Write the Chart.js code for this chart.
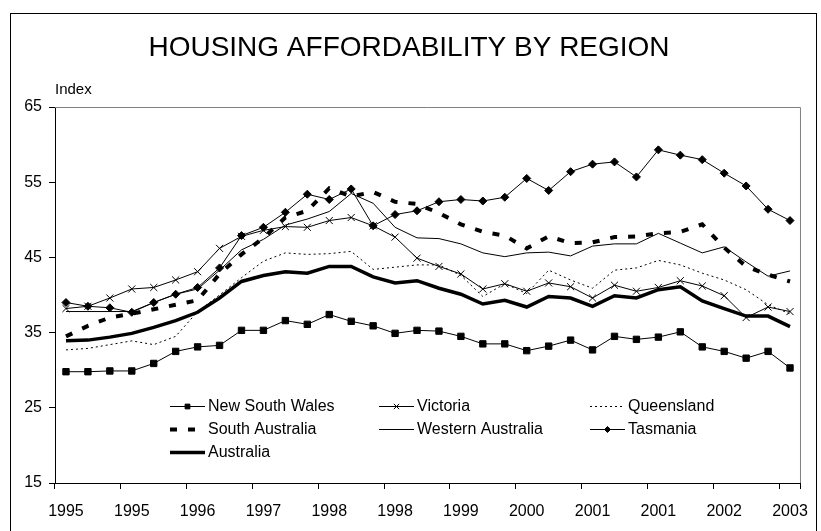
<!DOCTYPE html>
<html>
<head>
<meta charset="utf-8">
<title>Housing affordability by region</title>
<script src="https://cdn.jsdelivr.net/npm/chart.js@4.4.0/dist/chart.umd.min.js"></script>
<style>
  html, body { margin: 0; padding: 0; background: #fff; }
  #wrap { width: 821px; height: 531px; }
</style>
</head>
<body>
<div id="wrap"><canvas id="chart" width="821" height="531"></canvas></div>
<script>
// quarterly observations, 1995 Q1 .. 2003 Q2 (only every third one is labelled)
const quarters = [
  '1995', '1995', '1995', '1995', '1996', '1996', '1996', '1996',
  '1997', '1997', '1997', '1997', '1998', '1998', '1998', '1998',
  '1999', '1999', '1999', '1999', '2000', '2000', '2000', '2000',
  '2001', '2001', '2001', '2001', '2002', '2002', '2002', '2002',
  '2003', '2003'
];
const labelEvery = 3;
const yTicks = [15, 25, 35, 45, 55, 65];

const newSouthWales = [29.8, 29.8, 29.9, 29.9, 30.9, 32.5, 33.1, 33.3, 35.3, 35.3, 36.6, 36.1, 37.4, 36.5, 35.9, 34.9, 35.3,
  35.2, 34.5, 33.5, 33.5, 32.6, 33.2, 34.0, 32.7, 34.5, 34.1, 34.4, 35.1, 33.1, 32.5, 31.6, 32.5, 30.3];
const victoria = [38.2, 38.5, 39.6, 40.8, 41.0, 42.0, 43.1, 46.2, 47.8, 48.6, 49.1, 49.0, 49.9, 50.3, 49.2, 47.7, 44.9,
  43.8, 42.8, 40.8, 41.5, 40.5, 41.6, 41.1, 39.6, 41.3, 40.5, 41.0, 41.9, 41.2, 39.9, 37.0, 38.4, 37.8];
const queensland = [32.7, 32.9, 33.4, 33.9, 33.4, 34.5, 37.8, 40.0, 42.3, 44.5, 45.6, 45.4, 45.5, 45.8, 43.4, 43.7, 44.0,
  44.0, 42.6, 39.8, 41.5, 40.2, 43.3, 42.0, 40.9, 43.3, 43.6, 44.6, 44.0, 42.9, 42.0, 40.7, 38.7, 37.5];
const southAustralia = [34.5, 35.9, 37.0, 37.5, 38.1, 38.7, 39.3, 42.8, 45.4, 47.6, 50.3, 51.2, 54.2, 53.1, 53.7, 52.4, 52.1,
  50.9, 49.4, 48.4, 47.9, 46.2, 47.8, 46.9, 47.0, 47.7, 47.8, 48.2, 48.4, 49.4, 46.3, 43.8, 42.7, 41.8];
const westernAustralia = [37.8, 37.8, 37.8, 37.8, 39.0, 40.1, 40.8, 43.3, 46.0, 47.4, 49.3, 50.1, 51.1, 53.5, 52.2, 49.0, 47.6,
  47.5, 46.8, 45.6, 45.1, 45.6, 45.7, 45.2, 46.5, 46.8, 46.8, 48.2, 46.9, 45.6, 46.4, 44.4, 42.5, 43.2];
const tasmania = [39.0, 38.5, 38.3, 37.7, 39.0, 40.1, 41.0, 43.6, 47.9, 49.0, 51.0, 53.4, 52.7, 54.1, 49.2, 50.7, 51.2,
  52.4, 52.7, 52.5, 53.0, 55.5, 53.9, 56.4, 57.4, 57.7, 55.7, 59.3, 58.6, 58.0, 56.2, 54.5, 51.4, 49.9];
const australia = [33.9, 34.0, 34.4, 34.9, 35.7, 36.6, 37.7, 39.6, 41.8, 42.6, 43.1, 42.9, 43.8, 43.8, 42.4, 41.6, 41.9,
  40.9, 40.1, 38.8, 39.3, 38.4, 39.8, 39.6, 38.5, 39.9, 39.6, 40.7, 41.1, 39.2, 38.2, 37.2, 37.2, 35.8];

const FONT = '"Liberation Sans", Arial, sans-serif';

function series(label, data, extra) {
  return Object.assign({
    label: label,
    data: data,
    borderColor: '#000',
    backgroundColor: '#000',
    pointBackgroundColor: '#000',
    pointBorderColor: '#000',
    borderWidth: 1,
    pointRadius: 0,
    pointBorderWidth: 1,
    tension: 0,
    fill: false
  }, extra || {});
}

// frame, title, axis caption and the three-column legend inside the plot
const decorations = {
  id: 'decorations',
  beforeDraw(chart) {
    const ctx = chart.ctx;
    ctx.save();
    ctx.fillStyle = '#fff';
    ctx.fillRect(0, 0, chart.width, chart.height);
    ctx.restore();
  },
  afterDraw(chart) {
    const ctx = chart.ctx;
    const a = chart.chartArea;
    ctx.save();

    // outer frame
    ctx.strokeStyle = '#000';
    ctx.lineWidth = 1;
    ctx.strokeRect(10.5, 13.5, 806, 600);

    // plot box top + right
    ctx.strokeStyle = '#808080';
    ctx.beginPath();
    ctx.moveTo(a.left, a.top + 0.5);
    ctx.lineTo(a.right - 0.5, a.top + 0.5);
    ctx.lineTo(a.right - 0.5, a.bottom);
    ctx.stroke();

    ctx.fillStyle = '#000';
    ctx.textBaseline = 'middle';
    ctx.textAlign = 'center';
    ctx.font = '28px ' + FONT;
    ctx.fillText('HOUSING AFFORDABILITY BY REGION', 409, 48);

    ctx.textAlign = 'left';
    ctx.font = '15px ' + FONT;
    ctx.fillText('Index', 55, 90);

    // legend
    const cols = [170, 379, 590];
    const rows = [406, 429, 452];
    ctx.font = '16px ' + FONT;
    chart.data.datasets.forEach((ds, i) => {
      const x = cols[i % 3];
      const y = rows[Math.floor(i / 3)];
      ctx.save();
      ctx.strokeStyle = '#000';
      ctx.lineWidth = ds.borderWidth;
      ctx.setLineDash(ds.borderDash || []);
      ctx.beginPath();
      ctx.moveTo(x, y + 0.5);
      ctx.lineTo(x + 35, y + 0.5);
      ctx.stroke();
      ctx.restore();
      if (ds.pointRadius > 0) {
        ctx.save();
        ctx.fillStyle = '#000';
        ctx.strokeStyle = '#000';
        ctx.lineWidth = 1;
        Chart.helpers.drawPoint(ctx, {
          pointStyle: ds.pointStyle, rotation: 0, borderWidth: 1,
          radius: ds.pointRadius * 0.75
        }, x + 17.5, y + 0.5);
        ctx.restore();
      }
      ctx.fillText(ds.label, x + 38, y + 1);
    });
    ctx.restore();
  }
};

new Chart(document.getElementById('chart'), {
  type: 'line',
  data: {
    labels: quarters,
    datasets: [
      series('New South Wales', newSouthWales, { pointStyle: 'rect', pointRadius: 4.5 }),
      series('Victoria', victoria, { pointStyle: 'crossRot', pointRadius: 5 }),
      series('Queensland', queensland, { borderDash: [2, 3] }),
      series('South Australia', southAustralia, { borderWidth: 4, borderDash: [7, 11], borderCapStyle: 'butt' }),
      series('Western Australia', westernAustralia),
      series('Tasmania', tasmania, { pointStyle: 'rectRot', pointRadius: 4 }),
      series('Australia', australia, { borderWidth: 3.5 })
    ]
  },
  options: {
    responsive: false,
    animation: false,
    devicePixelRatio: 1,
    layout: { padding: { top: 107, right: 13, left: 0, bottom: 0 } },
    plugins: {
      legend: { display: false },
      title: { display: false },
      tooltip: { enabled: false }
    },
    scales: {
      x: {
        type: 'category',
        offset: true,
        grid: {
          offset: true,
          drawOnChartArea: false,
          drawTicks: true,
          tickLength: 6,
          color: (c) => (c.index === undefined || c.index % labelEvery === 0) ? '#000' : 'rgba(0,0,0,0)'
        },
        border: { display: true, color: '#000', width: 1 },
        ticks: {
          autoSkip: false,
          maxRotation: 0,
          padding: 13,
          color: '#000',
          font: { family: FONT, size: 16 },
          callback: (v, i) => (i % labelEvery === 0 ? quarters[i] : '')
        },
        afterFit: (s) => { s.height = 48; }
      },
      y: {
        type: 'linear',
        min: yTicks[0],
        max: yTicks[yTicks.length - 1],
        afterBuildTicks: (s) => { s.ticks = yTicks.map(v => ({ value: v })); },
        grid: { drawOnChartArea: false, drawTicks: true, tickLength: 6, color: '#000' },
        border: { display: true, color: '#000', width: 1 },
        ticks: { padding: 7, color: '#000', font: { family: FONT, size: 16 } },
        afterFit: (s) => { s.width = 55; }
      }
    }
  },
  plugins: [decorations]
});
</script>
</body>
</html>
